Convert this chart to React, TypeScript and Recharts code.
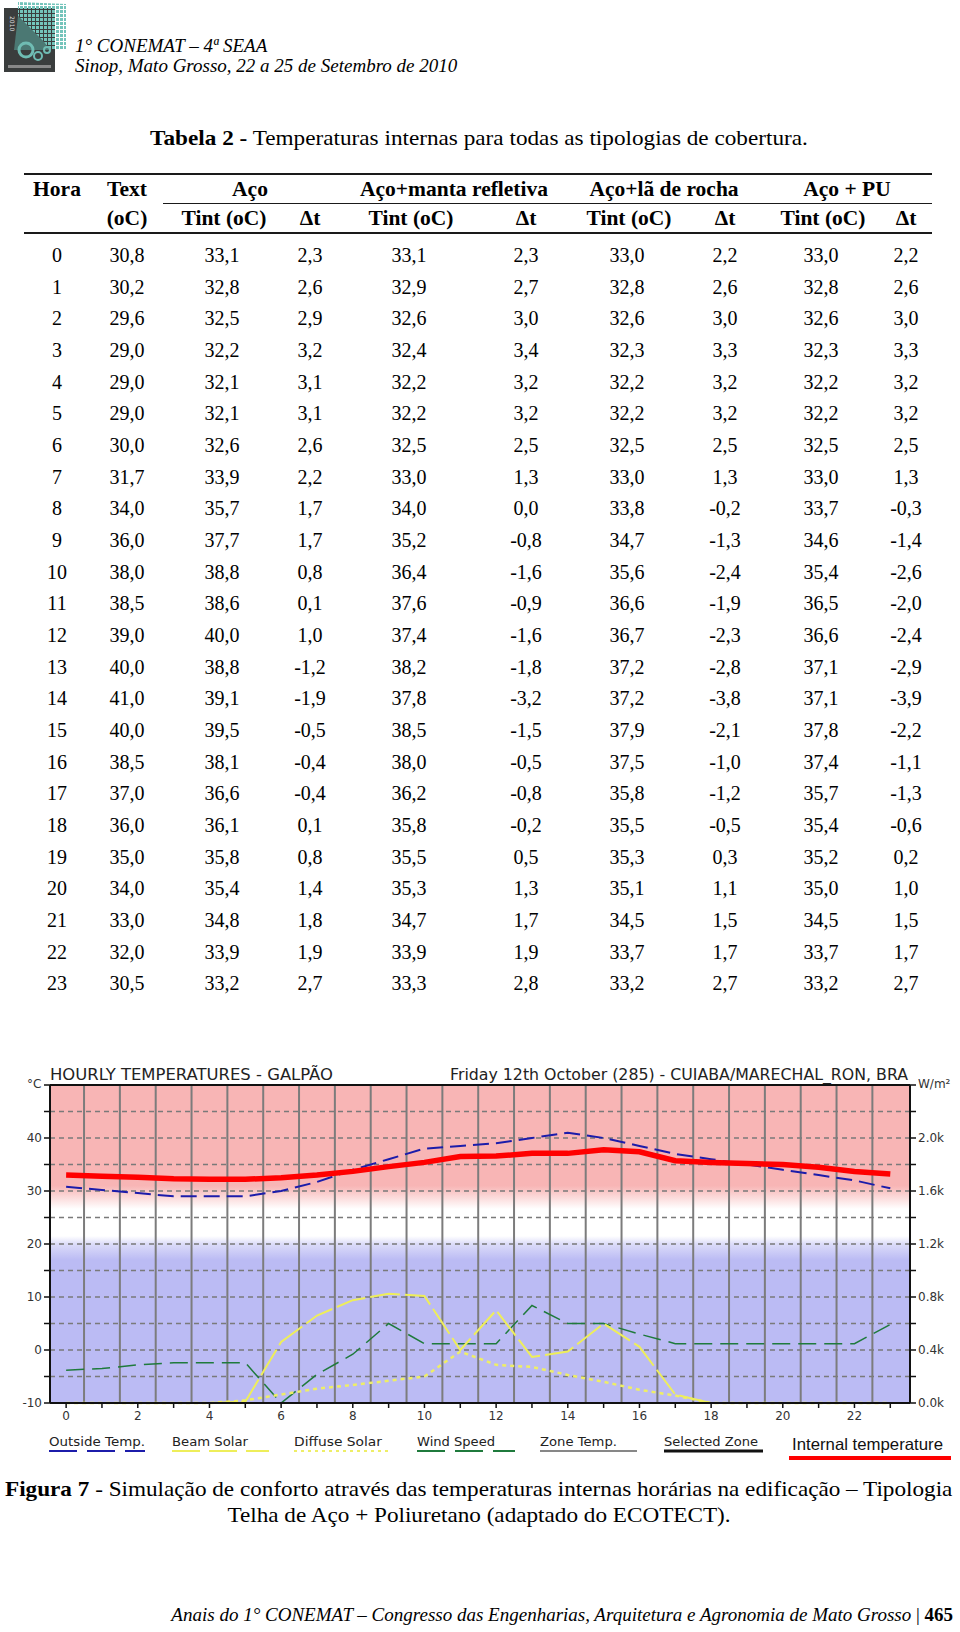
import React from "react";
import { CartesianGrid, ComposedChart, Line, ReferenceLine, XAxis, YAxis } from "recharts";

// ---- table 2 data (one value per hour) ----
const hours = [0, 1, 2, 3, 4, 5, 6, 7, 8, 9, 10, 11, 12, 13, 14, 15, 16, 17, 18, 19, 20, 21, 22, 23];
const textTemp = [30.8, 30.2, 29.6, 29.0, 29.0, 29.0, 30.0, 31.7, 34.0, 36.0, 38.0, 38.5, 39.0, 40.0, 41.0, 40.0, 38.5, 37.0, 36.0, 35.0, 34.0, 33.0, 32.0, 30.5];
const acoTint = [33.1, 32.8, 32.5, 32.2, 32.1, 32.1, 32.6, 33.9, 35.7, 37.7, 38.8, 38.6, 40.0, 38.8, 39.1, 39.5, 38.1, 36.6, 36.1, 35.8, 35.4, 34.8, 33.9, 33.2];
const acoDt = [2.3, 2.6, 2.9, 3.2, 3.1, 3.1, 2.6, 2.2, 1.7, 1.7, 0.8, 0.1, 1.0, -1.2, -1.9, -0.5, -0.4, -0.4, 0.1, 0.8, 1.4, 1.8, 1.9, 2.7];
const mantaTint = [33.1, 32.9, 32.6, 32.4, 32.2, 32.2, 32.5, 33.0, 34.0, 35.2, 36.4, 37.6, 37.4, 38.2, 37.8, 38.5, 38.0, 36.2, 35.8, 35.5, 35.3, 34.7, 33.9, 33.3];
const mantaDt = [2.3, 2.7, 3.0, 3.4, 3.2, 3.2, 2.5, 1.3, 0.0, -0.8, -1.6, -0.9, -1.6, -1.8, -3.2, -1.5, -0.5, -0.8, -0.2, 0.5, 1.3, 1.7, 1.9, 2.8];
const laTint = [33.0, 32.8, 32.6, 32.3, 32.2, 32.2, 32.5, 33.0, 33.8, 34.7, 35.6, 36.6, 36.7, 37.2, 37.2, 37.9, 37.5, 35.8, 35.5, 35.3, 35.1, 34.5, 33.7, 33.2];
const laDt = [2.2, 2.6, 3.0, 3.3, 3.2, 3.2, 2.5, 1.3, -0.2, -1.3, -2.4, -1.9, -2.3, -2.8, -3.8, -2.1, -1.0, -1.2, -0.5, 0.3, 1.1, 1.5, 1.7, 2.7];
const puTint = [33.0, 32.8, 32.6, 32.3, 32.2, 32.2, 32.5, 33.0, 33.7, 34.6, 35.4, 36.5, 36.6, 37.1, 37.1, 37.8, 37.4, 35.7, 35.4, 35.2, 35.0, 34.5, 33.7, 33.2];
const puDt = [2.2, 2.6, 3.0, 3.3, 3.2, 3.2, 2.5, 1.3, -0.3, -1.4, -2.6, -2.0, -2.4, -2.9, -3.9, -2.2, -1.1, -1.3, -0.6, 0.2, 1.0, 1.5, 1.7, 2.7];

// ---- ecotect chart traces ----
const beamSolar = [0, 0, 0, 0, 0, 10, 460, 660, 776, 824, 808, 400, 700, 348, 388, 600, 424, 64, 0, 0, 0, 0, 0, 0]; // W/m2
const diffuseSolar = [0, 0, 0, 0, 0, 20, 64, 108, 136, 168, 200, 388, 288, 272, 212, 160, 100, 56, 0, 0, 0, 0, 0, 0]; // W/m2
const windTrace = [-3.8, -3.5, -2.8, -2.4, -2.4, -2.4, -10, -4.6, -0.8, 5, 1.2, 1.2, 1.2, 8.4, 5, 5, 3, 1.2, 1.2, 1.2, 1.2, 1.2, 1.2, 4.8]; // on the left scale
const halfHours = [0.5, 1.5, 2.5, 3.5, 4.5, 5.5, 6.5, 7.5, 8.5, 9.5, 10.5, 11.5, 12.5, 13.5, 14.5, 15.5, 16.5, 17.5, 18.5, 19.5, 20.5, 21.5, 22.5];
const tempTicks = [-10, -5, 0, 5, 10, 15, 20, 25, 30, 35, 40, 45, 50];
const solarTicks = [0, 200, 400, 600, 800, 1000, 1200, 1400, 1600, 1800, 2000, 2200, 2400];

const groups = ["Aço", "Aço+manta refletiva", "Aço+lã de rocha", "Aço + PU"];
const groupX = [250, 454, 664, 847];
const colX = [57, 127, 222, 310, 409, 526, 627, 725, 821, 906];

const fmt = (v: number) => v.toFixed(1).replace(".", ",");

const SERIF = '"Liberation Serif", "Times New Roman", serif';
const SANS = '"DejaVu Sans", Verdana, sans-serif';

function T({ x, y, children, bold, italic, size = 20, anchor = "middle", sx = 1 }: any) {
  const tx = anchor === "middle" ? "-50%" : anchor === "end" ? "-100%" : "0";
  const origin = anchor === "middle" ? "50% 50%" : anchor === "end" ? "100% 50%" : "0 50%";
  return (
    <div
      style={{
        position: "absolute",
        left: x,
        top: y,
        transform: `translate(${tx},-50%) scaleX(${sx})`,
        transformOrigin: origin,
        whiteSpace: "nowrap",
        fontSize: size,
        fontWeight: bold ? 700 : 400,
        fontStyle: italic ? "italic" : "normal",
        lineHeight: 1,
      }}
    >
      {children}
    </div>
  );
}

function Rule({ x1, x2, y }: { x1: number; x2: number; y: number }) {
  return <div style={{ position: "absolute", left: x1, top: y - 0.75, width: x2 - x1, height: 1.5, background: "#1a1a1a" }} />;
}

function Table() {
  const rows = [textTemp, acoTint, acoDt, mantaTint, mantaDt, laTint, laDt, puTint, puDt];
  return (
    <>
      <T x={479} y={138} size={22} sx={1.055}>
        <b>Tabela 2 -</b> Temperaturas internas para todas as tipologias de cobertura.
      </T>
      <Rule x1={24} x2={932} y={174} />
      <Rule x1={163} x2={932} y={203.5} />
      <Rule x1={24} x2={932} y={233} />
      <T x={colX[0]} y={190} bold size={21.5}>Hora</T>
      <T x={colX[1]} y={190} bold size={21.5}>Text</T>
      <T x={colX[1]} y={219} bold size={21.5}>(oC)</T>
      {groups.map((g, i) => (
        <T key={g} x={groupX[i]} y={190} bold size={21.5}>{g}</T>
      ))}
      {[0, 1, 2, 3].map((g) => (
        <React.Fragment key={g}>
          <T x={colX[2 + g * 2] + 2} y={219} bold size={21.5}>Tint (oC)</T>
          <T x={colX[3 + g * 2]} y={219} bold size={21.5}>Δt</T>
        </React.Fragment>
      ))}
      {hours.map((h, i) => {
        const y = 255 + i * 31.67;
        return (
          <React.Fragment key={h}>
            <T x={colX[0]} y={y}>{h}</T>
            {rows.map((r, c) => (
              <T key={c} x={colX[c + 1]} y={y}>{fmt(r[i])}</T>
            ))}
          </React.Fragment>
        );
      })}
    </>
  );
}

function Logo() {
  return (
    <svg style={{ position: "absolute", left: 4, top: 2 }} width={62} height={71}>
      <defs>
        <pattern id="px" width="4" height="4" patternUnits="userSpaceOnUse">
          <rect width="3" height="3" fill="#74c4bb" />
        </pattern>
      </defs>
      <rect x={0} y={6} width={51} height={64} fill="#3a3d3d" />
      <polygon points="14,0 62,2 62,48 46,48 40,40 14,14" fill="url(#px)" />
      <polygon points="14,14 40,40 46,48 10,48" fill="#5aa9a0" opacity={0.55} />
      <circle cx={22} cy={48} r={7} fill="none" stroke="#6fbcb3" strokeWidth={3} />
      <circle cx={34} cy={54} r={4} fill="none" stroke="#6fbcb3" strokeWidth={2} />
      <circle cx={43} cy={48} r={3} fill="none" stroke="#6fbcb3" strokeWidth={2} />
      <text x={8} y={14} fontSize={6} fill="#ddd" fontFamily={SANS} writingMode="tb">2010</text>
      <rect x={4} y={63} width={43} height={3} fill="#888" />
    </svg>
  );
}

function EcotectChart() {
  const data = hours.map((h, i) => ({
    hour: h,
    outside: textTemp[i],
    internal: puTint[i],
    beam: beamSolar[i],
    diffuse: diffuseSolar[i],
    wind: windTrace[i],
  }));
  const tick = { fill: "#333", fontSize: 12, fontFamily: SANS };
  return (
    <ComposedChart width={960} height={430} data={data} margin={{ top: 45, right: 0, bottom: 37, left: 0 }}>
      <defs>
        <linearGradient id="comfortBg" x1="0" y1="0" x2="0" y2="1">
          <stop offset="0" stopColor="#f8b5b5" />
          <stop offset="0.317" stopColor="#f8b5b5" />
          <stop offset="0.39" stopColor="#ffffff" />
          <stop offset="0.475" stopColor="#ffffff" />
          <stop offset="0.5" stopColor="#dcdcf9" />
          <stop offset="0.55" stopColor="#bbbbf4" />
          <stop offset="1" stopColor="#bbbbf4" />
        </linearGradient>
      </defs>
      <CartesianGrid vertical={false} stroke="#7a7a7a" strokeWidth={1.5} strokeDasharray="5 4" fill="url(#comfortBg)" fillOpacity={1} />
      <XAxis
        type="number"
        dataKey="hour"
        domain={[-0.45, 23.55]}
        ticks={hours}
        interval={0}
        tickFormatter={(h: number) => (h % 2 === 0 ? String(h) : "")}
        height={30}
        tickSize={5}
        tickMargin={3}
        tick={tick}
        axisLine={{ stroke: "#111", strokeWidth: 2 }}
        tickLine={{ stroke: "#111", strokeWidth: 1.5 }}
      />
      <YAxis
        domain={[-10, 50]}
        ticks={tempTicks}
        interval={0}
        tickFormatter={(v: number) => (v % 10 === 0 && v < 50 ? String(v) : "")}
        width={50}
        tickSize={6}
        tickMargin={2}
        tick={tick}
        axisLine={{ stroke: "#111", strokeWidth: 2 }}
        tickLine={{ stroke: "#111", strokeWidth: 1.5 }}
      />
      <YAxis
        yAxisId="w"
        orientation="right"
        domain={[0, 2400]}
        ticks={solarTicks}
        interval={0}
        tickFormatter={(v: number) => (v % 400 === 0 && v < 2400 ? (v / 1000).toFixed(1) + "k" : "")}
        width={50}
        tickSize={6}
        tickMargin={2}
        tick={tick}
        axisLine={{ stroke: "#111", strokeWidth: 2 }}
        tickLine={{ stroke: "#111", strokeWidth: 1.5 }}
      />
      {halfHours.map((h) => (
        <ReferenceLine key={h} x={h} stroke="#7c7c7c" strokeWidth={2} />
      ))}
      <ReferenceLine y={50} stroke="#111" strokeWidth={2} />
      <Line dataKey="wind" stroke="#1f7a3c" strokeWidth={1.5} strokeDasharray="18 8" dot={false} isAnimationActive={false} />
      <Line yAxisId="w" dataKey="diffuse" stroke="#eeee66" strokeWidth={2.5} strokeDasharray="4 4" dot={false} isAnimationActive={false} />
      <Line yAxisId="w" dataKey="beam" stroke="#eeee5a" strokeWidth={2} strokeDasharray="30 5" dot={false} isAnimationActive={false} />
      <Line dataKey="outside" stroke="#1c1caa" strokeWidth={2} strokeDasharray="16 7" dot={false} isAnimationActive={false} />
      <Line dataKey="internal" stroke="#ff0000" strokeWidth={5.5} dot={false} isAnimationActive={false} />
    </ComposedChart>
  );
}

function ChartOverlay() {
  const lg = { fontFamily: SANS, fontSize: 13, fill: "#222" };
  return (
    <svg style={{ position: "absolute", left: 0, top: 0 }} width={960} height={430}>
      <text x={50} y={40} fontFamily={SANS} fontSize={15.5} fill="#222" textLength={283} lengthAdjust="spacingAndGlyphs">
        HOURLY TEMPERATURES - GALPÃO
      </text>
      <text x={450} y={40} fontFamily={SANS} fontSize={15.5} fill="#222" textLength={458} lengthAdjust="spacingAndGlyphs">
        Friday 12th October (285) - CUIABA/MARECHAL_RON, BRA
      </text>
      <text x={27} y={48} fontFamily={SANS} fontSize={12} fill="#333">°C</text>
      <text x={918} y={48} fontFamily={SANS} fontSize={12} fill="#333">W/m²</text>

      <text x={49} y={406} {...lg} textLength={96} lengthAdjust="spacingAndGlyphs">Outside Temp.</text>
      <line x1={49} x2={145} y1={411} y2={411} stroke="#1c1caa" strokeWidth={2} strokeDasharray="28 10" />
      <text x={172} y={406} {...lg} textLength={76} lengthAdjust="spacingAndGlyphs">Beam Solar</text>
      <line x1={172} x2={269} y1={411} y2={411} stroke="#eeee5a" strokeWidth={2} strokeDasharray="28 9" />
      <text x={294} y={406} {...lg} textLength={88} lengthAdjust="spacingAndGlyphs">Diffuse Solar</text>
      <line x1={294} x2={392} y1={411} y2={411} stroke="#eeee66" strokeWidth={2} strokeDasharray="3 4" />
      <text x={417} y={406} {...lg} textLength={78} lengthAdjust="spacingAndGlyphs">Wind Speed</text>
      <line x1={417} x2={515} y1={411} y2={411} stroke="#1f7a3c" strokeWidth={2} strokeDasharray="28 10" />
      <text x={540} y={406} {...lg} textLength={77} lengthAdjust="spacingAndGlyphs">Zone Temp.</text>
      <line x1={540} x2={637} y1={411} y2={411} stroke="#111" strokeWidth={1.2} />
      <text x={664} y={406} {...lg} textLength={94} lengthAdjust="spacingAndGlyphs">Selected Zone</text>
      <line x1={664} x2={763} y1={411} y2={411} stroke="#111" strokeWidth={3} />
      <text x={792} y={410} fontFamily='"Liberation Sans", Arial, sans-serif' fontSize={16.5} fill="#111" textLength={151} lengthAdjust="spacingAndGlyphs">
        Internal temperature
      </text>
      <line x1={789} x2={951} y1={418} y2={418} stroke="#ff0000" strokeWidth={4} />
    </svg>
  );
}

export default function App() {
  return (
    <div
      style={{
        position: "absolute",
        left: 0,
        top: 0,
        width: 960,
        height: 1632,
        background: "#fff",
        color: "#000",
        fontFamily: SERIF,
        overflow: "hidden",
      }}
    >
      <Logo />
      <T x={75} y={45} italic size={19} anchor="start">1° CONEMAT – 4ª SEAA</T>
      <T x={75} y={65} italic size={19} anchor="start">Sinop, Mato Grosso, 22 a 25 de Setembro de 2010</T>

      <Table />

      <div style={{ position: "absolute", left: 0, top: 1040, width: 960, height: 430 }}>
        <EcotectChart />
        <ChartOverlay />
      </div>

      <T x={5} y={1490} size={21.5} anchor="start" sx={1.078}>
        <b>Figura 7</b> - Simulação de conforto através das temperaturas internas horárias na edificação – Tipologia
      </T>
      <T x={479} y={1516} size={21.5} sx={1.078}>Telha de Aço + Poliuretano (adaptado do ECOTECT).</T>

      <T x={953} y={1614} size={19} italic anchor="end">
        Anais do 1° CONEMAT – Congresso das Engenharias, Arquitetura e Agronomia de Mato Grosso{" "}
        <span style={{ fontStyle: "normal" }}>|</span> <b style={{ fontStyle: "normal" }}>465</b>
      </T>
    </div>
  );
}
